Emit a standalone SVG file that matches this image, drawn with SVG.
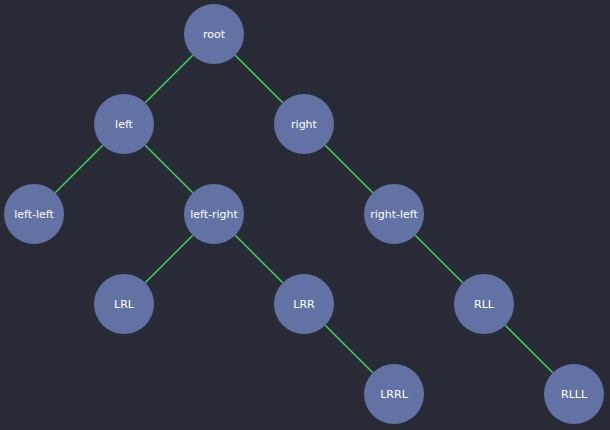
<svg xmlns="http://www.w3.org/2000/svg" width="610" height="430" viewBox="0 0 610 430">
<style>
.bg{fill:#282a36}
.n circle{fill:#6272a4}
.n text{fill:#ffffff;font-family:"DejaVu Sans",sans-serif;font-size:11px;text-anchor:middle;dominant-baseline:central}
.e path{stroke:#3ee35a;stroke-width:1.3;fill:none}
</style>
<rect class="bg" width="610" height="430"/>
<g id="edges" class="e">
<path d="M145.2 102.8L192.8 55.2"/>
<path d="M235.2 55.2L282.8 102.8"/>
<path d="M55.2 192.8L102.8 145.2"/>
<path d="M145.2 145.2L192.8 192.8"/>
<path d="M325.2 145.2L372.8 192.8"/>
<path d="M145.2 282.8L192.8 235.2"/>
<path d="M235.2 235.2L282.8 282.8"/>
<path d="M415.2 235.2L462.8 282.8"/>
<path d="M325.2 325.2L372.8 372.8"/>
<path d="M505.2 325.2L552.8 372.8"/>
</g>
<g id="root" class="n"><circle cx="214" cy="34" r="30"/><text x="214" y="34">root</text></g>
<g id="left" class="n"><circle cx="124" cy="124" r="30"/><text x="124" y="124">left</text></g>
<g id="right" class="n"><circle cx="304" cy="124" r="30"/><text x="304" y="124">right</text></g>
<g id="left-left" class="n"><circle cx="34" cy="214" r="30"/><text x="34" y="214">left-left</text></g>
<g id="left-right" class="n"><circle cx="214" cy="214" r="30"/><text x="214" y="214">left-right</text></g>
<g id="right-left" class="n"><circle cx="394" cy="214" r="30"/><text x="394" y="214">right-left</text></g>
<g id="LRL" class="n"><circle cx="124" cy="304" r="30"/><text x="124" y="304">LRL</text></g>
<g id="LRR" class="n"><circle cx="304" cy="304" r="30"/><text x="304" y="304">LRR</text></g>
<g id="RLL" class="n"><circle cx="484" cy="304" r="30"/><text x="484" y="304">RLL</text></g>
<g id="LRRL" class="n"><circle cx="394" cy="394" r="30"/><text x="394" y="394">LRRL</text></g>
<g id="RLLL" class="n"><circle cx="574" cy="394" r="30"/><text x="574" y="394">RLLL</text></g>
</svg>
